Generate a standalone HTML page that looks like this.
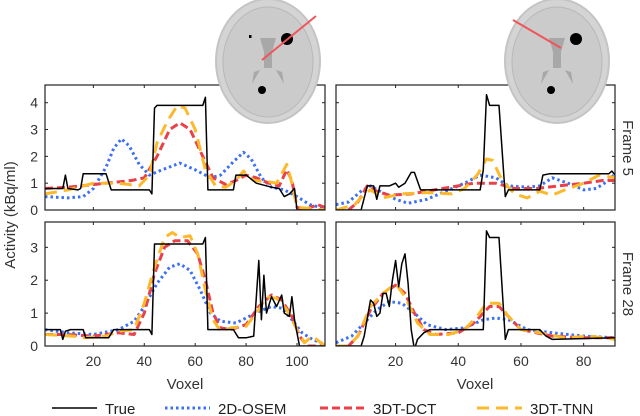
<!DOCTYPE html>
<html><head><meta charset="utf-8"><style>
html,body{margin:0;padding:0;background:#fff;}
svg{display:block;font-family:"Liberation Sans",sans-serif;}
</style></head><body>
<svg id="chart" width="640" height="416" viewBox="0 0 640 416" xmlns="http://www.w3.org/2000/svg"></svg>
<script>
// ---------- data ----------
// Frame 5, left profile
const f5L_true_x = [1,8,9,10,14,15,16,25,27,42,43,44,45,63,64,65,75,76,80,84,90,93,95,97,99,100,111];
const f5L_true_y = [0.8,0.8,1.3,0.8,0.75,0.8,1.35,1.35,0.75,0.75,0.6,3.8,3.9,3.9,4.2,0.75,0.75,1.3,1.3,1.0,0.85,0.8,0.5,0.6,0.8,0,0];
const f5L_osem_x = [1,10,16,20,25,28,31,34,38,42,47,54,60,66,70,75,79,82,86,90,95,100,105,111];
const f5L_osem_y = [0.5,0.45,0.5,0.8,1.6,2.3,2.65,2.4,1.7,1.3,1.5,1.75,1.5,1.2,1.3,1.8,2.15,1.9,1.2,0.85,0.75,0.5,0.2,0.05];
const f5L_dct_x = [1,10,20,35,40,45,50,54,58,63,67,72,76,80,84,89,93,96,98,100,103,108,111];
const f5L_dct_y = [0.8,0.85,0.95,1.1,1.2,2.0,3.0,3.25,3.0,2.0,1.2,0.95,1.1,1.3,1.2,1.0,0.9,1.5,1.1,0.1,0,0.2,0.1];
const f5L_tnn_x = [1,10,20,30,38,42,45,49,53,56,60,64,68,72,76,79,83,89,92,96,98,100,111];
const f5L_tnn_y = [0.6,0.75,1.0,1.0,0.9,1.3,2.5,3.3,3.9,3.8,3.0,1.5,0.9,0.85,1.1,1.45,1.1,1.05,1.0,1.7,1.0,0.1,0];
// Frame 5, right profile
const f5R_true_x = [1,9,11,13,14,15,18,20,21,23,25,26,28,47,48,49,50,53,55,56,66,67,69,88,89,90];
const f5R_true_y = [0,0,0.9,0.9,0.4,0.9,0.9,1.0,0.85,1.0,1.4,1.4,0.75,0.75,1.5,4.3,3.9,3.9,0.5,0.75,0.75,1.3,1.35,1.35,1.45,1.3];
const f5R_osem_x = [1,5,9,12,15,20,24,30,36,42,47,52,56,62,66,70,75,80,84,88,90];
const f5R_osem_y = [0.2,0.3,0.7,0.9,0.7,0.4,0.25,0.4,0.7,1.0,1.3,1.2,0.9,0.85,0.9,1.2,1.0,0.75,0.8,1.1,1.35];
const f5R_dct_x = [1,5,8,11,14,18,25,35,45,52,58,65,72,80,86,90];
const f5R_dct_y = [0,0,0.3,0.9,0.7,0.55,0.6,0.8,1.0,1.0,0.8,0.8,0.9,1.0,1.1,1.1];
const f5R_tnn_x = [1,4,7,10,12,16,22,30,38,42,46,49,51,54,58,62,66,70,74,80,85,90];
const f5R_tnn_y = [0,0.1,0.2,0.6,0.75,0.45,0.6,0.65,0.6,0.8,1.3,1.9,1.85,1.1,0.6,0.45,0.7,0.55,0.75,1.0,1.3,1.2];
// Frame 28, left profile
const f28L_true_x = [1,7,8,9,11,16,17,26,28,42,43,44,45,63,64,65,72,75,77,80,83,85,86,87,88,90,92,94,95,97,98,99,101,111];
const f28L_true_y = [0.5,0.5,0.2,0.45,0.5,0.5,0.25,0.25,0.5,0.5,0.35,3.1,3.1,3.1,3.3,0.5,0.5,0.5,0.25,0.25,0.3,2.6,0.8,2.15,1.0,1.5,1.2,1.55,1.0,0.9,1.5,0.8,0,0];
const f28L_osem_x = [1,10,20,30,36,40,45,50,54,58,62,66,70,76,80,85,90,94,98,102,106,111];
const f28L_osem_y = [0.5,0.4,0.35,0.5,0.75,1.2,1.9,2.4,2.5,2.3,1.7,1.0,0.75,0.7,0.85,1.05,1.2,1.15,0.8,0.4,0.2,0.05];
const f28L_dct_x = [1,10,20,30,36,40,44,48,52,57,61,64,67,70,74,80,85,90,94,98,101,104,111];
const f28L_dct_y = [0.35,0.35,0.3,0.4,0.35,1.0,2.2,3.0,3.2,3.2,2.8,2.0,1.0,0.55,0.5,0.65,1.2,1.55,1.4,0.9,0.3,0,0];
const f28L_tnn_x = [1,12,16,25,30,36,40,44,48,51,54,58,61,64,67,70,74,80,85,88,92,96,100,103,106,111];
const f28L_tnn_y = [0.35,0.3,0.25,0.3,0.45,0.5,1.3,2.4,3.3,3.45,3.3,3.35,2.8,1.7,0.8,0.45,0.55,0.6,1.1,1.5,1.45,1.1,0.5,0.1,0.3,0];
// Frame 28, right profile
const f28R_true_x = [1,9,10,12,13,14,15,16,17,18,19,20,21,22,23,24,25,26,27,29,31,48,49,50,53,55,56,58,66,68,70,90];
const f28R_true_y = [0,0,0.3,1.4,1.3,0.9,1.0,1.6,1.6,1.2,2.0,2.6,1.8,2.5,2.8,1.9,0.5,-0.1,0.2,0.4,0.5,0.5,3.5,3.3,3.3,0.2,0.5,0.5,0.5,0.3,0.2,0.25];
const f28R_osem_x = [1,6,10,14,18,22,26,30,36,42,48,52,56,62,70,80,90];
const f28R_osem_y = [0.1,0.3,0.7,1.1,1.35,1.3,1.0,0.65,0.5,0.55,0.8,0.85,0.8,0.5,0.4,0.3,0.25];
const f28R_dct_x = [1,5,8,12,16,20,23,26,29,33,40,45,50,53,56,60,70,80,90];
const f28R_dct_y = [0,0,0.3,1.1,1.6,1.85,1.6,1.0,0.5,0.35,0.4,0.7,1.2,1.2,0.9,0.5,0.3,0.25,0.25];
const f28R_tnn_x = [1,5,8,12,16,20,23,27,31,37,42,46,49,53,56,60,66,74,82,90];
const f28R_tnn_y = [0,0,0.3,1.2,1.6,1.9,1.5,0.7,0.35,0.35,0.5,0.9,1.3,1.3,0.9,0.5,0.4,0.25,0.3,0.2];

const ticksTop = [0,1,2,3,4];
const ticksBot = [0,1,2,3];
const xTicksL = [20,40,60,80,100];
const xTicksR = [20,40,60,80];
const legendLabels = ["True","2D-OSEM","3DT-DCT","3DT-TNN"];

// ---------- drawing ----------
const NS="http://www.w3.org/2000/svg";
const svg=document.getElementById('chart');
function mk(tag,attrs,parent){const e=document.createElementNS(NS,tag);for(const k in attrs)e.setAttribute(k,attrs[k]);(parent||svg).appendChild(e);return e;}
const styles={
  'true':{stroke:'#000',w:1.5,dash:''},
  'osem':{stroke:'#3b6ff5',w:3,dash:'2.5 3'},
  'dct':{stroke:'#e8414a',w:3,dash:'8 4'},
  'tnn':{stroke:'#fdb92c',w:3,dash:'12 7'}
};
function panel(name,x0,x1,y0,y1,xmin,xmax,ymax,yTicks,xTicks,showYLab,showXLab,series){
  const g=mk('g',{});
  
  
  const sx=v=>x0+(v-xmin)/(xmax-xmin)*(x1-x0);
  const sy=v=>y1-v/ymax*(y1-y0);
  const cid='clip-'+name;
  const cp=mk('clipPath',{id:cid},g);mk('rect',{x:x0,y:y0,width:x1-x0,height:y1-y0},cp);
  const lg=mk('g',{'clip-path':'url(#'+cid+')'},g);
  ['osem','dct','tnn','true'].forEach(k=>{
    const s=series[k];const st=styles[k];
    const d=s[0].map((xv,i)=>(i?'L':'M')+sx(xv).toFixed(1)+','+sy(s[1][i]).toFixed(1)).join('');
    const p=mk('path',{d:d,fill:'none',stroke:st.stroke,'stroke-width':st.w,'stroke-dasharray':st.dash,'stroke-linejoin':'round'},lg);
    
    
  });
  mk('rect',{x:x0,y:y0,width:x1-x0,height:y1-y0,fill:'none',stroke:'#222','stroke-width':1.2},g);
  yTicks.forEach(t=>{
    const y=sy(t);
    mk('line',{x1:x0,x2:x0+3,y1:y,y2:y,stroke:'#222'},g);
    mk('line',{x1:x1,x2:x1-3,y1:y,y2:y,stroke:'#222'},g);
    if(showYLab){const tx=mk('text',{x:x0-7,y:y+5,'text-anchor':'end','font-size':14,fill:'#333'},g);tx.textContent=t;
      }
  });
  xTicks.forEach(t=>{
    const x=sx(t);
    mk('line',{x1:x,x2:x,y1:y1,y2:y1-3,stroke:'#222'},g);
    mk('line',{x1:x,x2:x,y1:y0,y2:y0+3,stroke:'#222'},g);
    if(showXLab){const tx=mk('text',{x:x,y:y1+20,'text-anchor':'middle','font-size':14,fill:'#333'},g);tx.textContent=t;
      }
  });
}
panel('frame5-left',45,325,85,210,1,111,4.66,ticksTop,xTicksL,true,false,
 {'true':[f5L_true_x,f5L_true_y],osem:[f5L_osem_x,f5L_osem_y],dct:[f5L_dct_x,f5L_dct_y],tnn:[f5L_tnn_x,f5L_tnn_y]});
panel('frame5-right',336,615,85,210,1,90,4.66,ticksTop,xTicksR,false,false,
 {'true':[f5R_true_x,f5R_true_y],osem:[f5R_osem_x,f5R_osem_y],dct:[f5R_dct_x,f5R_dct_y],tnn:[f5R_tnn_x,f5R_tnn_y]});
panel('frame28-left',45,325,222,346,1,111,3.77,ticksBot,xTicksL,true,true,
 {'true':[f28L_true_x,f28L_true_y],osem:[f28L_osem_x,f28L_osem_y],dct:[f28L_dct_x,f28L_dct_y],tnn:[f28L_tnn_x,f28L_tnn_y]});
panel('frame28-right',336,615,222,346,1,90,3.77,ticksBot,xTicksR,false,true,
 {'true':[f28R_true_x,f28R_true_y],osem:[f28R_osem_x,f28R_osem_y],dct:[f28R_dct_x,f28R_dct_y],tnn:[f28R_tnn_x,f28R_tnn_y]});

function txt(name,x,y,s,attrs){const t=mk('text',Object.assign({x:x,y:y,'font-size':15,fill:'#333'},attrs||{}));t.textContent=s;
  return t;}
txt('y-axis-title',0,0,'Activity (kBq/ml)',{'text-anchor':'middle',transform:'translate(15,215) rotate(-90)'});
txt('x-axis-title-left',185,389,'Voxel',{'text-anchor':'middle'});
txt('x-axis-title-right',475,389,'Voxel',{'text-anchor':'middle'});
txt('row-label-frame5',0,0,'Frame 5',{'text-anchor':'middle',transform:'translate(623,148) rotate(90)'});
txt('row-label-frame28',0,0,'Frame 28',{'text-anchor':'middle',transform:'translate(623,284) rotate(90)'});

// legend
const lgd=mk('g',{});


const legKeys=['true','osem','dct','tnn'];
const legX=[52,165,320,477];
legKeys.forEach((k,i)=>{
  const st=styles[k];
  const e=mk('g',{},lgd);
  
  
  mk('line',{x1:legX[i],x2:legX[i]+45,y1:408,y2:408,stroke:st.stroke,'stroke-width':st.w,'stroke-dasharray':st.dash},e);
  const t=mk('text',{x:legX[i]+53,y:414,'font-size':15,fill:'#222'},e);t.textContent=legendLabels[i];
});

// brain insets
function brain(name,cx,lx1,ly1,lx2,ly2,bigx,smallDot){
  const g=mk('g',{});
  
  
  mk('ellipse',{cx:cx,cy:61,rx:52,ry:62,fill:'#d4d4d4',stroke:'#c4c4c4','stroke-width':2},g);
  mk('ellipse',{cx:cx,cy:62,rx:45,ry:55,fill:'#cbcbcb',stroke:'#b8b8b8','stroke-width':1},g);
  mk('path',{d:`M${cx-8},38 L${cx+8},38 L${cx+4},52 L${cx+4},68 L${cx-4},68 L${cx-4},52 Z`,fill:'#a8a8a8'},g);
  mk('path',{d:`M${cx-14},72 L${cx-8},70 L${cx-16},84 Z M${cx+14},72 L${cx+8},70 L${cx+16},84 Z`,fill:'#a8a8a8'},g);
  mk('circle',{cx:bigx,cy:39,r:6,fill:'#000'},g);
  mk('circle',{cx:cx-6,cy:90,r:4,fill:'#000'},g);
  if(smallDot) mk('rect',{x:cx-19,y:35,width:2.5,height:3,fill:'#000'},g);
  mk('line',{x1:lx1,y1:ly1,x2:lx2,y2:ly2,stroke:'#f0555a','stroke-width':2},g);
}
brain('brain-inset-left',268,262,60,316,16,287,true);
brain('brain-inset-right',557,513,20,561,48,576,false);
</script>
</body></html>
